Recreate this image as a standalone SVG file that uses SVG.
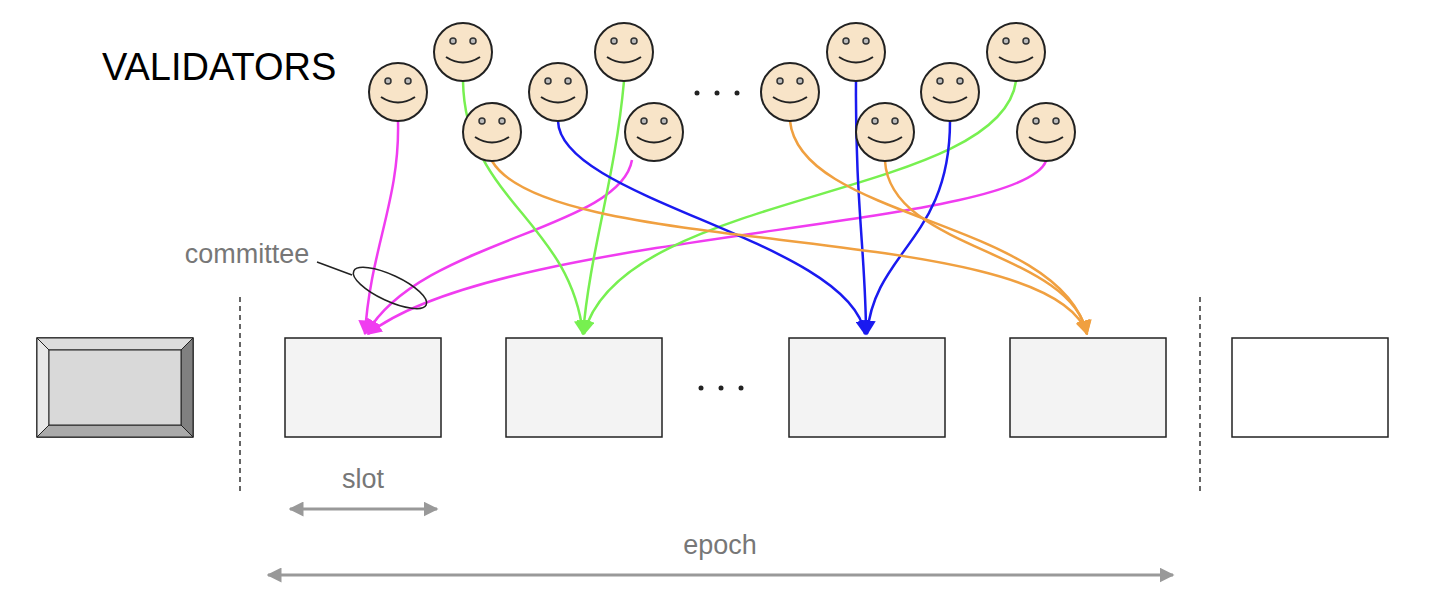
<svg xmlns="http://www.w3.org/2000/svg" width="1434" height="596" viewBox="0 0 1434 596">
<style>
.face{fill:#f8e4c8;stroke:#222;stroke-width:2}
.eye{fill:#bbb;stroke:#333;stroke-width:1.5}
.mouth{fill:none;stroke:#222;stroke-width:2}
.slot{fill:#f3f3f3;stroke:#222;stroke-width:1.5}
.c{fill:none;stroke-width:2.5}
.t{font-family:"Liberation Sans",Arial,sans-serif}
.g{fill:#777;font-size:27px}
</style>
<defs>
<g id="face"><circle class="face" r="29"/><circle class="eye" cx="-10" cy="-11" r="3"/><circle class="eye" cx="10" cy="-11" r="3"/><path class="mouth" d="M-17 5 Q0 16 17 5"/></g>
<marker id="am" viewBox="0 0 10 10" refX="9" refY="5" markerWidth="6" markerHeight="6" orient="auto"><path d="M0 0L10 5L0 10z" fill="#f03cf0"/></marker>
<marker id="ag" viewBox="0 0 10 10" refX="9" refY="5" markerWidth="6" markerHeight="6" orient="auto"><path d="M0 0L10 5L0 10z" fill="#77f050"/></marker>
<marker id="ab" viewBox="0 0 10 10" refX="9" refY="5" markerWidth="6" markerHeight="6" orient="auto"><path d="M0 0L10 5L0 10z" fill="#1a1af0"/></marker>
<marker id="ao" viewBox="0 0 10 10" refX="9" refY="5" markerWidth="6" markerHeight="6" orient="auto"><path d="M0 0L10 5L0 10z" fill="#f0a040"/></marker>
<marker id="ay" viewBox="0 0 10 10" refX="9" refY="5" markerWidth="5" markerHeight="5" orient="auto-start-reverse"><path d="M0 0L10 5L0 10z" fill="#999"/></marker>
</defs>
<text class="t" x="102" y="80" font-size="38" fill="#000">VALIDATORS</text>
<g id="dots-top" fill="#222"><circle cx="697" cy="93" r="2.5"/><circle cx="717" cy="93" r="2.5"/><circle cx="737" cy="93" r="2.5"/></g>
<g id="dots-mid" fill="#222"><circle cx="701" cy="388" r="2.5"/><circle cx="721" cy="388" r="2.5"/><circle cx="741" cy="388" r="2.5"/></g>
<g id="prev"><rect x="37" y="338" width="156" height="99" fill="#ddd" stroke="#222" stroke-width="1.5"/>
<path d="M37 338H193L181 350H49z" fill="#ddd" stroke="#222"/><path d="M193 338V437L181 425V350z" fill="#808080" stroke="#222"/><path d="M37 437H193L181 425H49z" fill="#aaa" stroke="#222"/><path d="M37 338V437L49 425V350z" fill="#e8e8e8" stroke="#222"/><rect x="49" y="350" width="132" height="75" fill="#d9d9d9" stroke="#222"/></g>
<g id="slot1"><rect class="slot" x="285" y="338" width="156" height="99"/></g>
<g id="slot2"><rect class="slot" x="506" y="338" width="156" height="99"/></g>
<g id="slot3"><rect class="slot" x="789" y="338" width="156" height="99"/></g>
<g id="slot4"><rect class="slot" x="1010" y="338" width="156" height="99"/></g>
<g id="next"><rect x="1232" y="338" width="156" height="99" fill="#fff" stroke="#222" stroke-width="1.5"/></g>
<g id="dividers" stroke="#333" stroke-width="1.5" stroke-dasharray="5,4"><line x1="240" y1="297" x2="240" y2="495"/><line x1="1200" y1="297" x2="1200" y2="495"/></g>
<g id="connectors">
<path class="c" stroke="#f03cf0" marker-end="url(#am)" d="M398 121C400 200 370 250 365 334"/>
<path class="c" stroke="#f03cf0" marker-end="url(#am)" d="M632 160C620 230 420 240 367 333"/>
<path class="c" stroke="#f03cf0" marker-end="url(#am)" d="M1046 161C1020 230 500 230 368 334"/>
<path class="c" stroke="#77f050" marker-end="url(#ag)" d="M463 81C465 200 570 220 583 334"/>
<path class="c" stroke="#77f050" marker-end="url(#ag)" d="M624 81C615 180 590 250 583 334"/>
<path class="c" stroke="#77f050" marker-end="url(#ag)" d="M1016 81C1000 200 620 190 584 334"/>
<path class="c" stroke="#1a1af0" marker-end="url(#ab)" d="M558 121C560 200 850 240 865 334"/>
<path class="c" stroke="#1a1af0" marker-end="url(#ab)" d="M856 81C855 200 866 260 866 334"/>
<path class="c" stroke="#1a1af0" marker-end="url(#ab)" d="M950 121C950 240 875 250 867 334"/>
<path class="c" stroke="#f0a040" marker-end="url(#ao)" d="M492 161C550 260 1050 220 1087 334"/>
<path class="c" stroke="#f0a040" marker-end="url(#ao)" d="M790 121C800 220 1060 220 1087 334"/>
<path class="c" stroke="#f0a040" marker-end="url(#ao)" d="M885 161C890 250 1070 250 1087 334"/>
<path d="M317 262L352 275" stroke="#222" stroke-width="1.5"/>
<ellipse cx="390" cy="288" rx="40" ry="13" transform="rotate(25 390 288)" fill="none" stroke="#222" stroke-width="1.5"/>
<line x1="290" y1="509" x2="437" y2="509" stroke="#999" stroke-width="3" marker-start="url(#ay)" marker-end="url(#ay)"/>
<line x1="268" y1="575" x2="1173" y2="575" stroke="#999" stroke-width="3" marker-start="url(#ay)" marker-end="url(#ay)"/>
</g>
<g id="faces">
<use href="#face" x="398" y="92"/><use href="#face" x="463" y="52"/><use href="#face" x="492" y="132"/><use href="#face" x="558" y="92"/><use href="#face" x="624" y="52"/><use href="#face" x="654" y="132"/>
<use href="#face" x="790" y="92"/><use href="#face" x="856" y="52"/><use href="#face" x="885" y="132"/><use href="#face" x="950" y="92"/><use href="#face" x="1016" y="52"/><use href="#face" x="1046" y="132"/>
</g>
<text class="t g" x="247" y="263" text-anchor="middle">committee</text>
<text class="t g" x="363" y="488" text-anchor="middle">slot</text>
<text class="t g" x="720" y="554" text-anchor="middle">epoch</text>
</svg>
